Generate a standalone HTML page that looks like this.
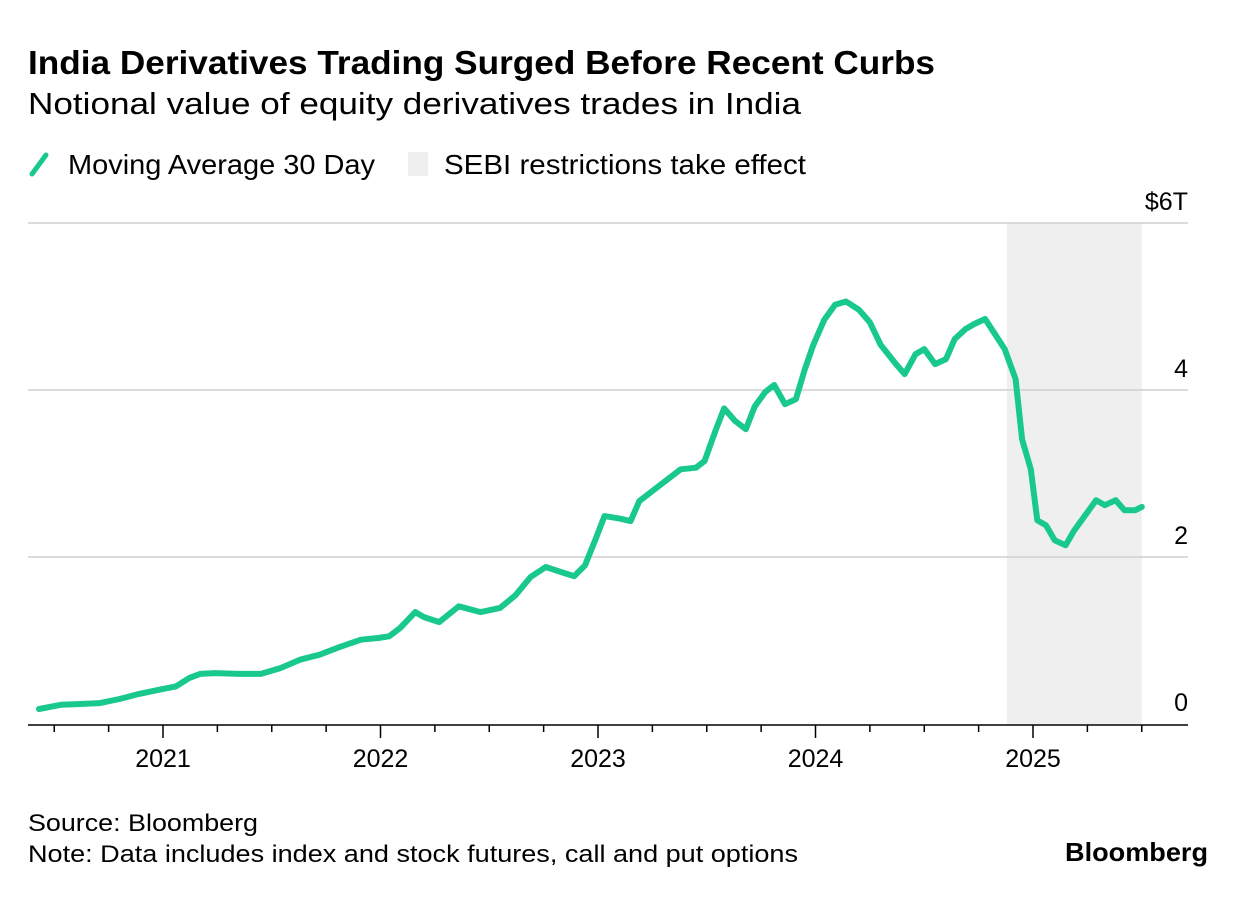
<!DOCTYPE html>
<html><head><meta charset="utf-8"><style>
body{margin:0;background:#fff;}
svg text{font-family:"Liberation Sans",sans-serif;fill:#000;}
</style></head><body>
<svg id="chart" width="1237" height="894" xmlns="http://www.w3.org/2000/svg">
<text x="28" y="74" font-size="33" font-weight="bold" textLength="907" lengthAdjust="spacingAndGlyphs">India Derivatives Trading Surged Before Recent Curbs</text>
<text x="28" y="114" font-size="31" textLength="773" lengthAdjust="spacingAndGlyphs">Notional value of equity derivatives trades in India</text>
<g>
<line x1="32" y1="174" x2="46" y2="155" stroke="#19c98c" stroke-width="5" stroke-linecap="round"/>
<text x="68" y="174" font-size="28" textLength="307" lengthAdjust="spacingAndGlyphs">Moving Average 30 Day</text>
<rect x="408" y="152" width="20" height="24" fill="#efefef"/>
<text x="444" y="174" font-size="28" textLength="362" lengthAdjust="spacingAndGlyphs">SEBI restrictions take effect</text>
</g>
<g id="plot"></g>
<text x="28" y="831" font-size="24" textLength="230" lengthAdjust="spacingAndGlyphs">Source: Bloomberg</text>
<text x="28" y="862" font-size="24" textLength="770" lengthAdjust="spacingAndGlyphs">Note: Data includes index and stock futures, call and put options</text>
<text x="1208" y="861" font-size="26" font-weight="bold" text-anchor="end" textLength="143" lengthAdjust="spacingAndGlyphs">Bloomberg</text>
</svg>
<script>
const dates=[2020.43,2020.53,2020.62,2020.71,2020.80,2020.89,2021.00,2021.06,2021.12,2021.17,2021.24,2021.35,2021.45,2021.54,2021.63,2021.72,2021.81,2021.91,2021.99,2022.04,2022.09,2022.16,2022.20,2022.27,2022.36,2022.46,2022.55,2022.62,2022.69,2022.76,2022.83,2022.89,2022.94,2022.99,2023.03,2023.10,2023.15,2023.19,2023.26,2023.31,2023.38,2023.45,2023.49,2023.54,2023.58,2023.63,2023.68,2023.72,2023.77,2023.81,2023.86,2023.91,2023.95,2023.99,2024.04,2024.09,2024.14,2024.20,2024.25,2024.30,2024.37,2024.41,2024.46,2024.50,2024.55,2024.60,2024.64,2024.69,2024.73,2024.78,2024.83,2024.87,2024.92,2024.95,2024.99,2025.02,2025.06,2025.10,2025.15,2025.19,2025.24,2025.29,2025.33,2025.38,2025.42,2025.47,2025.50];
const values=[0.18,0.23,0.24,0.25,0.30,0.36,0.42,0.45,0.55,0.60,0.61,0.60,0.60,0.67,0.77,0.83,0.92,1.01,1.03,1.05,1.15,1.34,1.28,1.22,1.41,1.34,1.39,1.54,1.76,1.88,1.82,1.77,1.90,2.22,2.49,2.46,2.43,2.67,2.81,2.91,3.05,3.07,3.15,3.51,3.78,3.63,3.53,3.80,3.98,4.06,3.83,3.89,4.24,4.54,4.84,5.02,5.06,4.96,4.81,4.54,4.31,4.19,4.43,4.49,4.31,4.37,4.61,4.73,4.79,4.85,4.65,4.49,4.13,3.41,3.05,2.44,2.38,2.20,2.14,2.32,2.50,2.68,2.62,2.68,2.56,2.56,2.60];
const shadeRange=[2024.88,2025.50];
const yTicks=[0,2,4,6];
const yTickLabels=["0","2","4","$6T"];
const xYears=[2021,2022,2023,2024,2025];
const xQuarterStart=2020.5, xQuarterEnd=2025.5;

const NS="http://www.w3.org/2000/svg";
const plot=document.getElementById('plot');
const X=t=>163+(t-2021)*217.5;
const Y=v=>724-v*83.5;
function mk(tag,attrs){const e=document.createElementNS(NS,tag);for(const k in attrs)e.setAttribute(k,attrs[k]);plot.appendChild(e);return e;}

const sh=mk('rect',{x:X(shadeRange[0]),y:Y(6),width:X(shadeRange[1])-X(shadeRange[0]),height:Y(0)-Y(6),fill:'#efefef'});



yTicks.forEach((v,i)=>{
  if(v>0){const g=mk('line',{x1:28,x2:1188,y1:Y(v),y2:Y(v),stroke:'#cfcfcf','stroke-width':1.5});
  
  }
  const t=mk('text',{x:1188,y:Y(v)-13,'font-size':25,'text-anchor':'end'});
  t.textContent=yTickLabels[i];
  
  
});

let d='';
dates.forEach((t,i)=>{d+=(i?'L':'M')+X(t).toFixed(1)+','+Y(values[i]).toFixed(1);});
const ln=mk('path',{d:d,fill:'none',stroke:'#19c98c','stroke-width':6,'stroke-linejoin':'round','stroke-linecap':'round'});



const ax=mk('line',{x1:28,x2:1188,y1:Y(0)+1,y2:Y(0)+1,stroke:'#000','stroke-width':1.5});


for(let q=xQuarterStart;q<=xQuarterEnd+0.001;q+=0.25){
  const major=Math.abs(q-Math.round(q))<0.01;
  const tk=mk('line',{x1:X(q),x2:X(q),y1:Y(0)+1,y2:Y(0)+(major?14:8),stroke:'#000','stroke-width':1.5});
  
  
}
xYears.forEach(yr=>{
  const t=mk('text',{x:X(yr),y:767,'font-size':25,'text-anchor':'middle'});
  t.textContent=String(yr);
  
  
});
</script>
</body></html>
